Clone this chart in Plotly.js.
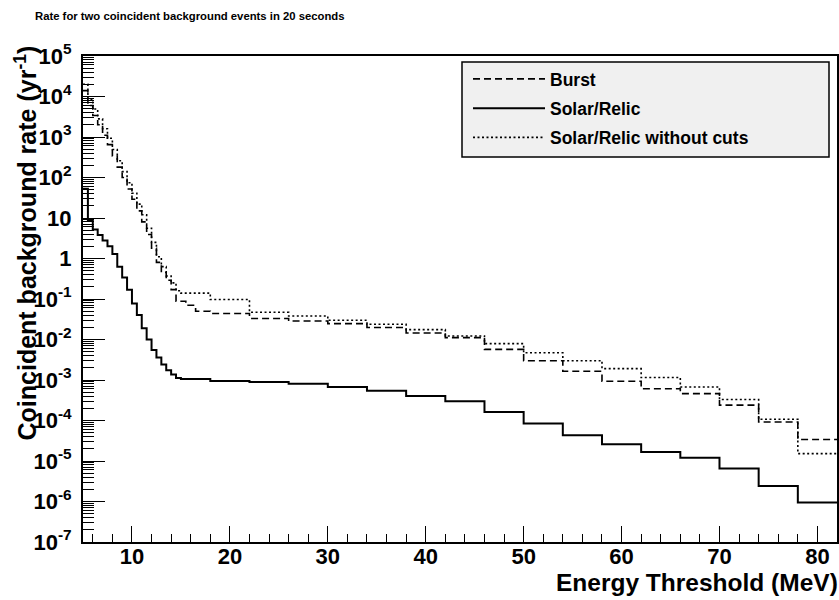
<!DOCTYPE html>
<html>
<head>
<meta charset="utf-8">
<script src="https://cdn.plot.ly/plotly-3.0.1.min.js"></script>
<style>
  html, body { margin: 0; padding: 0; background: #ffffff; }
  #chart { width: 839px; height: 600px; }
</style>
</head>
<body>
<div id="chart"></div>
<script>
// ---- Data ----
// Bin edges in MeV
const edgesSolar = [5, 5.5, 6, 6.5, 7, 7.5, 8, 8.5, 9, 9.5, 10, 10.5, 11, 11.5, 12, 12.5, 13, 13.5, 14, 14.5, 15,
                    18, 22, 26, 30, 34, 38, 42, 46, 50, 54, 58, 62, 66, 70, 74, 78, 82];
const edgesBurst = [5, 5.5, 6, 6.5, 7, 7.5, 8, 8.5, 9, 9.5, 10, 10.5, 11, 11.5, 12, 12.5, 13, 13.5, 14, 14.5,
                    15.5, 16.5, 18, 22, 26, 30, 34, 38, 42, 46, 50, 54, 58, 62, 66, 70, 74, 78, 82];

// Coincident background rate (yr^-1) per bin
const burstRate = [1.4e4, 6.0e3, 3.4e3, 2.0e3, 1.1e3, 650, 340, 180, 100, 52, 29, 15, 8, 3.9, 1.8, 0.8, 0.45, 0.29, 0.17,
                   0.088, 0.07, 0.05,
                   0.044, 0.033, 0.0286, 0.0247, 0.0197, 0.0145, 0.0111, 5.7e-3, 3.0e-3, 1.64e-3, 9.3e-4, 6.1e-4, 4.6e-4, 2.4e-4, 9.2e-5, 3.4e-5];
const solarRate = [53, 8.7, 5.2, 3.8, 2.8, 2.0, 1.3, 0.63, 0.34, 0.17, 0.077, 0.04, 0.019, 0.01, 5.5e-3, 3.6e-3, 2.4e-3, 1.75e-3, 1.37e-3, 1.12e-3,
                   1.06e-3,
                   9.5e-4, 8.9e-4, 8.1e-4, 6.7e-4, 5.4e-4, 4.0e-4, 3.0e-4, 1.62e-4, 8.4e-5, 4.3e-5, 2.6e-5, 1.67e-5, 1.21e-5, 6.5e-6, 2.4e-6, 9.4e-7];
const solarNoCutsRate = [2.0e4, 8.5e3, 4.9e3, 2.8e3, 1.6e3, 930, 490, 260, 140, 74, 41, 22, 12, 5.6, 2.5, 1.1, 0.63, 0.37, 0.25, 0.16,
                   0.14,
                   0.097, 0.047, 0.038, 0.030, 0.0237, 0.0175, 0.0122, 7.9e-3, 4.7e-3, 3.0e-3, 1.91e-3, 1.15e-3, 6.7e-4, 3.3e-4, 1.07e-4, 1.52e-5];

const seriesNames = ['Burst', 'Solar/Relic', 'Solar/Relic without cuts'];

const yTickVals = [1e-7, 1e-6, 1e-5, 1e-4, 1e-3, 1e-2, 1e-1, 1, 10, 1e2, 1e3, 1e4, 1e5];
const yTickText = ['10<sup>-7</sup>', '10<sup>-6</sup>', '10<sup>-5</sup>', '10<sup>-4</sup>', '10<sup>-3</sup>',
                   '10<sup>-2</sup>', '10<sup>-1</sup>', '1', '10', '10<sup>2</sup>', '10<sup>3</sup>', '10<sup>4</sup>', '10<sup>5</sup>'];

// ---- Build step traces ----
function stepTrace(edges, values, name, dash, width, group) {
  return {
    type: 'scatter',
    mode: 'lines',
    x: edges,
    y: values.concat([values[values.length - 1]]),
    name: '<b>' + name + '</b>',
    legendgroup: group,
    line: { shape: 'hv', color: '#000000', width: width, dash: dash },
    hoverinfo: 'skip'
  };
}

const traces = [
  stepTrace(edgesBurst, burstRate, seriesNames[0], '7px,4px', 1.6, 'g1'),
  stepTrace(edgesSolar, solarRate, seriesNames[1], 'solid', 2, 'g2'),
  stepTrace(edgesSolar, solarNoCutsRate, seriesNames[2], '2px,2.5px', 1.6, 'g3')
];

const FONT = 'Liberation Sans, Arial, Helvetica, sans-serif';

const layout = {
  width: 839,
  height: 600,
  margin: { l: 83, r: 2, t: 56, b: 58, pad: 0 },
  paper_bgcolor: '#ffffff',
  plot_bgcolor: '#ffffff',
  font: { family: FONT, color: '#000000' },
  title: {
    text: '<b>Rate for two coincident background events in 20 seconds</b>',
    font: { family: FONT, size: 11.3, color: '#000000' },
    xref: 'container', yref: 'container',
    x: 35 / 839, xanchor: 'left',
    y: 1 - 16 / 600, yanchor: 'middle'
  },
  xaxis: {
    type: 'linear',
    range: [5, 82],
    showgrid: false, zeroline: false,
    showline: true, linecolor: '#000000', linewidth: 2, mirror: true,
    ticks: 'inside', ticklen: 16, tickwidth: 1, tickcolor: '#000000',
    tick0: 0, dtick: 10,
    minor: { ticks: 'inside', ticklen: 8, tickwidth: 1, tickcolor: '#000000', dtick: 2, tick0: 0, showgrid: false },
    tickfont: { family: FONT, size: 22, color: '#000000', weight: 'bold' },
    ticklabelstandoff: -6
  },
  yaxis: {
    type: 'log',
    range: [-7, 5],
    showgrid: false, zeroline: false,
    showline: true, linecolor: '#000000', linewidth: 2, mirror: true,
    ticks: 'inside', ticklen: 22, tickwidth: 1, tickcolor: '#000000',
    tickmode: 'array', tickvals: yTickVals, ticktext: yTickText,
    minor: { ticks: 'inside', ticklen: 11, tickwidth: 1, tickcolor: '#000000', dtick: 'D1', showgrid: false },
    tickfont: { family: FONT, size: 22, color: '#000000', weight: 'bold' },
    ticklabelstandoff: 5
  },
  showlegend: true,
  legend: {
    x: (468 - 83) / 754, y: (542 - 61) / 486,
    xanchor: 'left', yanchor: 'top',
    bgcolor: 'rgba(0,0,0,0)', borderwidth: 0,
    font: { family: FONT, size: 17.5, color: '#000000' },
    itemwidth: 72,
    tracegroupgap: 3.5,
    traceorder: 'grouped'
  },
  shapes: [
    {
      type: 'rect', xref: 'paper', yref: 'paper', layer: 'below',
      x0: (462 - 83) / 754, x1: (829 - 83) / 754,
      y0: (542 - 157) / 486, y1: (542 - 62) / 486,
      fillcolor: '#f0f0f0', line: { color: '#000000', width: 1.5 }
    }
  ],
  annotations: [
    {
      text: '<b>Coincident background rate (yr<sup>-1</sup>)</b>',
      xref: 'paper', yref: 'paper',
      x: (26 - 83) / 754, xanchor: 'center',
      y: (542 - 44) / 486, yanchor: 'top',
      textangle: -90, showarrow: false,
      font: { family: FONT, size: 25, color: '#000000' }
    },
    {
      text: '<b>Energy Threshold (MeV)</b>',
      xref: 'paper', yref: 'paper',
      x: 1 + 3 / 754, xanchor: 'right',
      y: (542 - 582) / 486, yanchor: 'middle',
      showarrow: false,
      font: { family: FONT, size: 24.5, color: '#000000' }
    }
  ]
};

Plotly.newPlot('chart', traces, layout, { displayModeBar: false, staticPlot: true });
</script>
</body>
</html>
